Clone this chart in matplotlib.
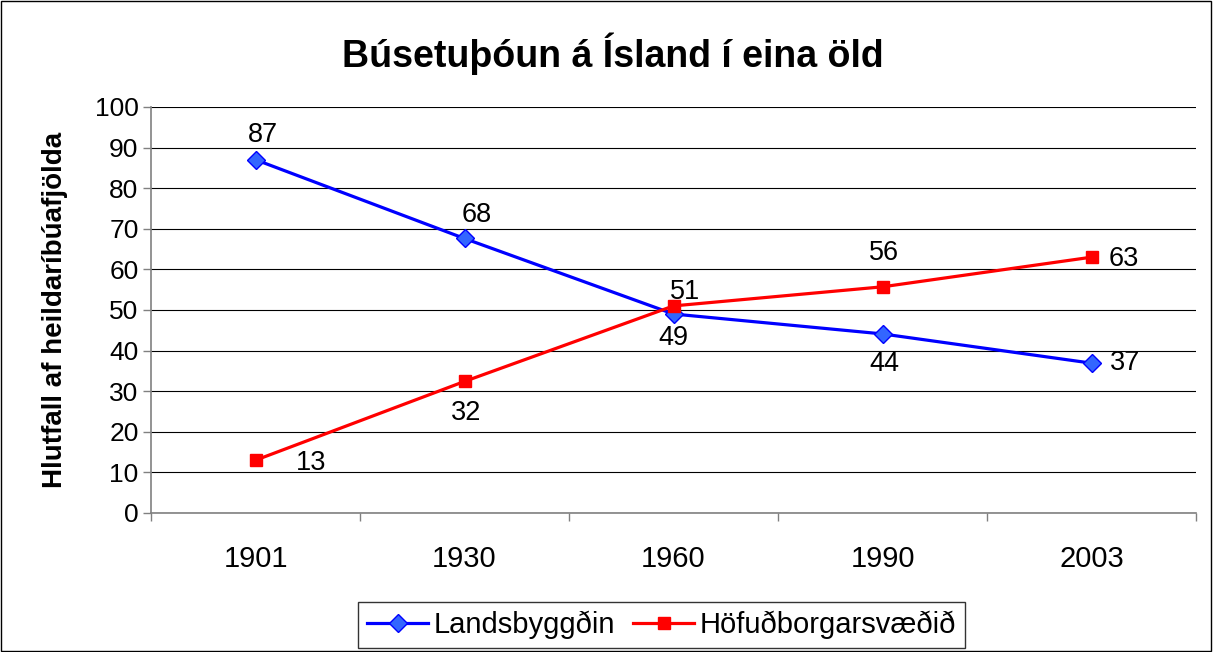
import numpy as np
import matplotlib
matplotlib.use("Agg")
import matplotlib.pyplot as plt

plt.rcParams['font.family'] = ['Liberation Sans', 'DejaVu Sans']

# gögn lesin af myndinni
years = ['1901', '1930', '1960', '1990', '2003']
landsbyggdin = [87, 67.6, 49, 44.1, 36.9]
hofudborg = [13, 32.4, 51, 55.7, 63]

# staðsetning merkimiða (punktar frá gagnapunkti)
offs_blue = [(5, 18), (9, 17), (0, -17), (1, -22), (24, 0)]
offs_red = [(40, -2), (1, -23), (8, 10), (1, 24), (23, -1)]

fig = plt.figure(figsize=(12.13, 6.52), dpi=100)
ax = fig.add_axes([0.1245, 0.2132, 0.8615, 0.6228])

x = np.arange(len(years))
ax.plot(x, landsbyggdin, color='#0000FF', lw=2.3, marker='D', ms=9,
        mfc='#3366FF', mec='#0000FF', mew=1.0, label='Landsbyggðin', zorder=3)
ax.plot(x, hofudborg, color='#FF0000', lw=2.3, marker='s', ms=9,
        mfc='#FF0000', mec='#FF0000', label='Höfuðborgarsvæðið', zorder=3)

for xi, v, o in zip(x, landsbyggdin, offs_blue):
    ax.annotate('%.0f' % v, (xi, v), xytext=o, textcoords='offset points',
                ha='center', va='center', fontsize=19.5)
for xi, v, o in zip(x, hofudborg, offs_red):
    ax.annotate('%.0f' % v, (xi, v), xytext=o, textcoords='offset points',
                ha='center', va='center', fontsize=19.5)

ax.set_xlim(-0.5, len(years) - 0.5)
ax.set_ylim(0, 100)
ax.set_yticks(np.arange(0, 101, 10))
ax.set_xticks(x)
ax.set_xticklabels(years)
ax.set_xticks(np.arange(-0.5, len(years), 1), minor=True)
ax.tick_params(axis='x', which='major', length=0, pad=23, labelsize=21)
ax.tick_params(axis='x', which='minor', length=6, width=1, color='#808080')
ax.tick_params(axis='y', length=6, width=1, color='#808080', labelsize=19, pad=3)
ax.grid(axis='y', color='black', lw=0.8)
ax.set_axisbelow(True)
for s in ['top', 'right']:
    ax.spines[s].set_visible(False)
for s in ['left', 'bottom']:
    ax.spines[s].set_color('#808080')
    ax.spines[s].set_linewidth(1.2)

ax.set_ylabel('Hlutfall af heildaríbúafjölda', fontsize=20, fontweight='bold', labelpad=19)
fig.text(0.505, 0.918, 'Búsetuþóun á Ísland í eina öld', ha='center', va='center',
         fontsize=27, fontweight='bold')

leg = fig.legend(loc='lower center', bbox_to_anchor=(0.5455, -0.003), ncol=2, fontsize=21,
                 frameon=True, fancybox=False, edgecolor='black', handlelength=2.1,
                 columnspacing=0.6, handletextpad=0.2, borderpad=0.3, borderaxespad=0.2)
leg.get_frame().set_linewidth(1.0)

fig.patches.append(plt.Rectangle((0.001, 0.001), 0.997, 0.997, transform=fig.transFigure,
                                 fill=False, edgecolor='black', lw=1.0))

fig.savefig('out.png', dpi=100)
